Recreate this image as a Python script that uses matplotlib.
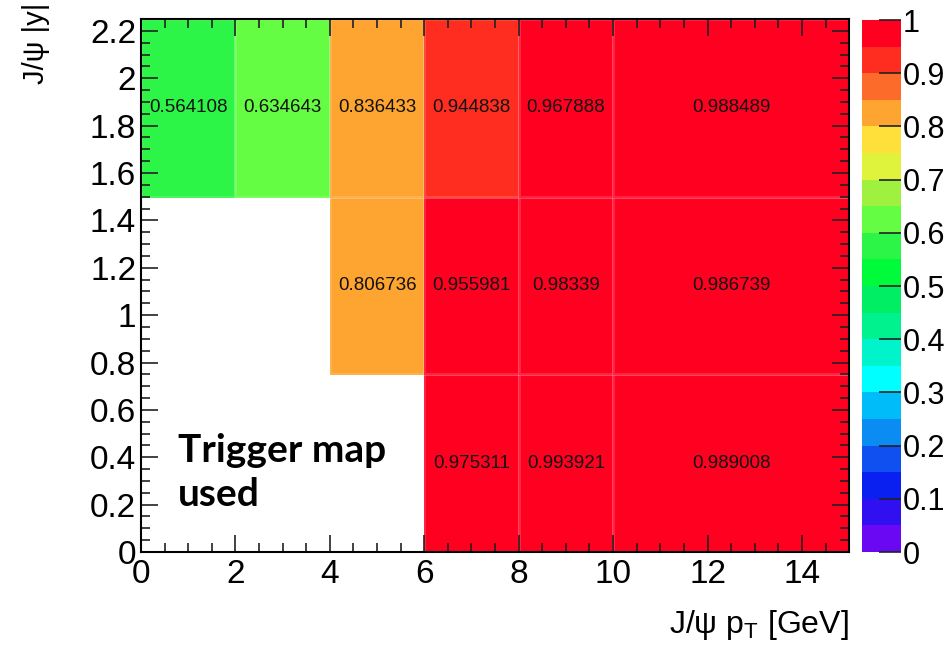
import numpy as np
import matplotlib.pyplot as plt
from matplotlib.colors import ListedColormap, BoundaryNorm
from matplotlib.ticker import MultipleLocator

# trigger efficiency map, J/psi pT vs |y|
pt_edges = [0, 2, 4, 6, 8, 10, 15]
y_edges = [0, 0.75, 1.5, 2.25]
eff_low_y = [np.nan, np.nan, np.nan, 0.975311, 0.993921, 0.989008]
eff_mid_y = [np.nan, np.nan, 0.806736, 0.955981, 0.98339, 0.986739]
eff_high_y = [0.564108, 0.634643, 0.836433, 0.944838, 0.967888, 0.988489]

# 20-step palette, from 0 up to 1
palette = ["#6a08f4", "#3010f0", "#0a20f0", "#1050f0", "#0a8cf2",
           "#00bcf8", "#00ffff", "#00f4cc", "#00f28f", "#00ee64",
           "#00fb3a", "#2cf547", "#65fd43", "#a0f040", "#e0f33c",
           "#ffdf3a", "#fea431", "#fd6b2a", "#ff2d20", "#ff0021"]
levels = np.linspace(0, 1, 21)

plt.rcParams['font.family'] = ['Liberation Sans', 'DejaVu Sans']
plt.rcParams['mathtext.fontset'] = 'custom'
plt.rcParams['mathtext.rm'] = 'Liberation Sans'

eff = np.ma.masked_invalid(np.array([eff_low_y, eff_mid_y, eff_high_y]))
cmap = ListedColormap(palette)
norm = BoundaryNorm(levels, cmap.N)

fig = plt.figure(figsize=(9.53, 6.46), dpi=100)
ax = fig.add_axes([0.148, 0.1455, 0.743, 0.825])
cax = fig.add_axes([0.9045, 0.1455, 0.041, 0.8235])

mesh = ax.pcolormesh(pt_edges, y_edges, eff, cmap=cmap, norm=norm,
                     edgecolors=(1, 1, 1, 0.15), linewidth=1)

# bin contents
for j in range(len(y_edges) - 1):
    for i in range(len(pt_edges) - 1):
        v = eff[j, i]
        if np.ma.is_masked(v):
            continue
        xc = 0.5 * (pt_edges[i] + pt_edges[i + 1])
        yc = 0.5 * (y_edges[j] + y_edges[j + 1])
        ax.text(xc, yc, f"{v:g}", ha='center', va='center', fontsize=13.5,
                color='#111111')

ax.set_xlim(0, 15)
ax.set_ylim(0, 2.25)
ax.xaxis.set_major_locator(MultipleLocator(2))
ax.xaxis.set_minor_locator(MultipleLocator(0.5))
ax.yaxis.set_major_locator(MultipleLocator(0.2))
ax.yaxis.set_minor_locator(MultipleLocator(0.05))
ax.xaxis.set_major_formatter(plt.FuncFormatter(lambda v, p: f"{v:g}"))
ax.yaxis.set_major_formatter(plt.FuncFormatter(lambda v, p: f"{v:g}"))
ax.tick_params(which='both', direction='in', top=True, right=True,
               labelsize=24, width=1.2, color='#222222')
ax.tick_params(axis='x', which='major', pad=5)
ax.tick_params(which='major', length=12)
ax.tick_params(which='minor', length=6.5)
for s in ax.spines.values():
    s.set_linewidth(1.5)

ax.set_xlabel("J/ψ p$_{\\mathrm{T}}$ [GeV]", fontsize=23, loc='right')
ax.xaxis.set_label_coords(1.0, -0.105)
ax.set_ylabel("J/ψ |y|", fontsize=21, loc='top')
ax.yaxis.set_label_coords(-0.128, 1.03)

ax.text(0.78, 0.38, "Trigger map", fontsize=28, fontweight='bold',
        family=['Lato', 'DejaVu Sans'])
ax.text(0.78, 0.195, "used", fontsize=28, fontweight='bold',
        family=['Lato', 'DejaVu Sans'])

cb = fig.colorbar(mesh, cax=cax, boundaries=levels, ticks=np.arange(0, 1.01, 0.1))
cb.outline.set_visible(False)
cb.ax.yaxis.set_major_formatter(plt.FuncFormatter(lambda v, p: f"{round(v, 1):g}"))
cb.ax.tick_params(direction='in', length=16, width=1.2, labelsize=22,
                  pad=1, color='#222222')
cb.ax.minorticks_off()

fig.savefig("out.png", dpi=100)
